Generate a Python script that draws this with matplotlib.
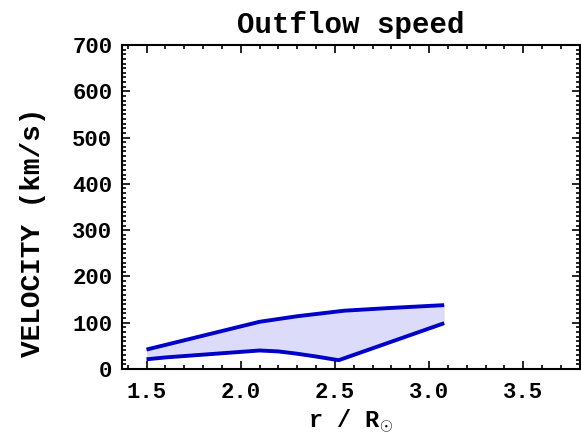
import numpy as np
import matplotlib
matplotlib.use("Agg")
import matplotlib.pyplot as plt
from matplotlib.ticker import MultipleLocator

# Values
r_upper = [1.5, 1.8, 2.1, 2.3, 2.55, 2.8, 3.08]
v_upper = [42, 72, 102, 114, 126, 132, 138]

r_lower = [1.5, 1.6, 1.8, 2.0, 2.1, 2.2, 2.3, 2.4, 2.52, 3.08]
v_lower = [21, 25, 31, 37, 40, 38, 33, 27, 19, 99]

x_ticks = [1.5, 2.0, 2.5, 3.0, 3.5]
y_ticks = [0, 100, 200, 300, 400, 500, 600, 700]

plt.rcParams["font.family"] = ["Liberation Mono", "DejaVu Sans"]
plt.rcParams["font.weight"] = "bold"
plt.rcParams["axes.titleweight"] = "bold"
plt.rcParams["axes.labelweight"] = "bold"
plt.rcParams["mathtext.fontset"] = "custom"
plt.rcParams["mathtext.rm"] = "Liberation Mono:bold"
plt.rcParams["mathtext.it"] = "Liberation Mono:bold"
plt.rcParams["mathtext.bf"] = "Liberation Mono:bold"


def main() -> None:
    fig = plt.figure(figsize=(5.81, 4.37), dpi=100)
    ax = fig.add_axes([0.21, 0.1556, 0.788, 0.7414])

    # shaded band between the two curves (common grid only for the fill)
    rr = np.union1d(r_upper, r_lower)
    up = np.interp(rr, r_upper, v_upper)
    lo = np.interp(rr, r_lower, v_lower)
    ax.fill_between(rr, lo, up, color="#dcdcfa", lw=0)
    ax.plot(r_upper, v_upper, color="#0000c8", lw=2.8, solid_capstyle="butt")
    ax.plot(r_lower, v_lower, color="#0000c8", lw=2.8, solid_capstyle="butt")

    ax.set_xlim(1.37, 3.8)
    ax.set_ylim(0, 700)
    ax.set_xticks(x_ticks)
    ax.set_yticks(y_ticks)
    ax.set_xticklabels([f"{v:.1f}" for v in x_ticks])
    ax.xaxis.set_minor_locator(MultipleLocator(0.1))
    ax.yaxis.set_minor_locator(MultipleLocator(10))

    ax.tick_params(which="both", direction="in", top=True, right=True, width=1.2, colors="black")
    ax.tick_params(which="major", length=6)
    ax.tick_params(which="minor", length=3)
    ax.tick_params(axis="x", which="major", pad=9, labelsize=16)
    ax.tick_params(axis="y", which="major", pad=7, labelsize=16)
    for s in ax.spines.values():
        s.set_linewidth(1.5)

    ax.set_title("Outflow speed", fontsize=21, pad=9)
    ax.set_xlabel(r"r / R$_{\odot}$", fontsize=17, labelpad=3)
    ax.set_ylabel("VELOCITY (km/s)", fontsize=20)
    ax.yaxis.set_label_coords(-0.165, 0.423)

    fig.savefig("out.png", dpi=100)


if __name__ == "__main__":
    main()
